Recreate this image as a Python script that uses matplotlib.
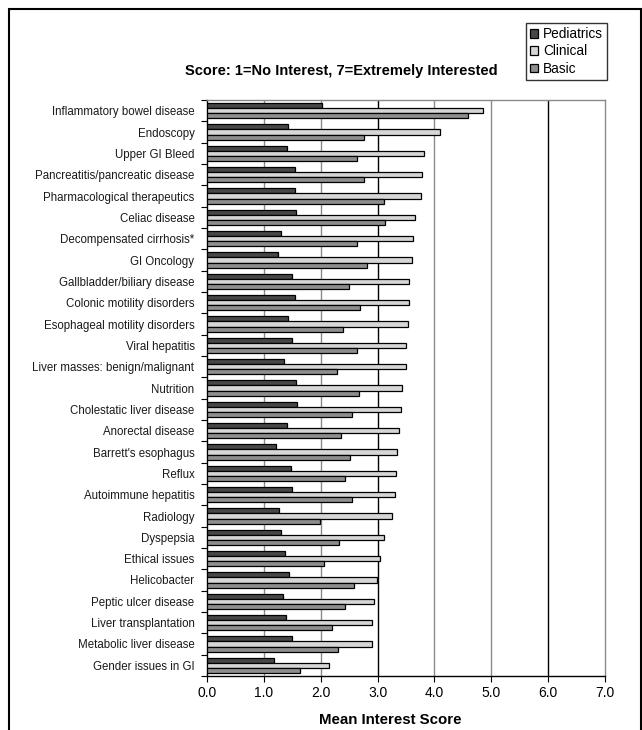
import numpy as np
import matplotlib
matplotlib.use('Agg')
import matplotlib.pyplot as plt
from matplotlib.patches import Rectangle

plt.rcParams['font.family'] = ['Liberation Sans', 'DejaVu Sans']

# -------------------------------------------------------------------------
# DATA (top row first)
# -------------------------------------------------------------------------

topics = ["Inflammatory bowel disease", "Endoscopy", "Upper GI Bleed",
          "Pancreatitis/pancreatic disease", "Pharmacological therapeutics",
          "Celiac disease", "Decompensated cirrhosis*", "GI Oncology",
          "Gallbladder/biliary disease", "Colonic motility disorders",
          "Esophageal motility disorders", "Viral hepatitis",
          "Liver masses: benign/malignant", "Nutrition",
          "Cholestatic liver disease", "Anorectal disease",
          "Barrett's esophagus", "Reflux", "Autoimmune hepatitis", "Radiology",
          "Dyspepsia", "Ethical issues", "Helicobacter", "Peptic ulcer disease",
          "Liver transplantation", "Metabolic liver disease",
          "Gender issues in GI"]

pediatrics = [2.02, 1.43, 1.40, 1.54, 1.54, 1.57, 1.31, 1.25, 1.50, 1.54,
              1.43, 1.50, 1.36, 1.57, 1.59, 1.40, 1.21, 1.47, 1.50, 1.27,
              1.31, 1.37, 1.45, 1.34, 1.39, 1.49, 1.18]
clinical = [4.85, 4.09, 3.82, 3.78, 3.76, 3.66, 3.62, 3.60, 3.56, 3.56,
            3.54, 3.50, 3.50, 3.43, 3.42, 3.37, 3.34, 3.32, 3.30, 3.25,
            3.11, 3.05, 2.99, 2.94, 2.91, 2.91, 2.15]
basic = [4.59, 2.77, 2.63, 2.77, 3.11, 3.13, 2.63, 2.81, 2.49, 2.69,
         2.40, 2.63, 2.29, 2.67, 2.55, 2.36, 2.51, 2.43, 2.55, 1.98,
         2.33, 2.06, 2.58, 2.43, 2.19, 2.31, 1.64]

series_names = ['Pediatrics', 'Clinical', 'Basic']
x_ticks = [0, 1, 2, 3, 4, 5, 6, 7]

# -------------------------------------------------------------------------
# PLOT
# -------------------------------------------------------------------------

fig = plt.figure(figsize=(6.42, 7.30), dpi=100)
W, H = 642.0, 730.0
ax = fig.add_axes([207 / W, 1 - 676 / H, (605 - 207) / W, (676 - 100) / H])

n = len(topics)
y = np.arange(n)
h = 0.24
colors = ['#474747', '#d6d6d6', '#8e8e8e']

for k, (vals, name) in enumerate(zip([pediatrics, clinical, basic], series_names)):
    ax.barh(y + (k - 1) * h, vals, height=h, color=colors[k],
            edgecolor='black', linewidth=0.9, label=name, zorder=3)

# gridlines (scan shows some darker than others)
grid_cols = {1: '#8a8a8a', 2: '#8a8a8a', 3: 'black', 4: '#8a8a8a',
             5: '#8a8a8a', 6: 'black'}
for gx, gc in grid_cols.items():
    ax.axvline(gx, color=gc, linewidth=1.0, zorder=1)

ax.set_xlim(0, 7)
ax.set_ylim(n - 0.5, -0.5)

ax.set_xticks(x_ticks)
ax.set_xticklabels(['%.1f' % t for t in x_ticks], fontsize=10)
ax.tick_params(axis='x', direction='out', length=4, width=0.8, pad=3.5)

ax.set_yticks(y)
ax.set_yticklabels(topics, fontsize=8.3, color='#1a1a1a')
ax.tick_params(axis='y', which='major', length=0, pad=9)
ax.set_yticks(np.arange(n + 1) - 0.5, minor=True)
ax.tick_params(axis='y', which='minor', direction='out', length=4, width=0.8)

for side in ['left', 'bottom']:
    ax.spines[side].set_color('black')
    ax.spines[side].set_linewidth(1.0)
for side in ['top', 'right']:
    ax.spines[side].set_color('#8a8a8a')
    ax.spines[side].set_linewidth(1.0)

# title and x label sit off-centre in the original
fig.text(341 / W, 1 - 71 / H, 'Score: 1=No Interest, 7=Extremely Interested',
         ha='center', va='center', fontsize=10.5, fontweight='bold')
fig.text(390 / W, 1 - 720 / H, 'Mean Interest Score',
         ha='center', va='center', fontsize=10.8, fontweight='bold')

leg = ax.legend(loc='upper right', bbox_to_anchor=(607 / W, 1 - 23 / H),
                bbox_transform=fig.transFigure, borderaxespad=0,
                fontsize=9.8, handlelength=0.6, handleheight=0.6,
                handletextpad=0.35, labelspacing=0.25, borderpad=0.3,
                fancybox=False, framealpha=1)
leg.get_frame().set_edgecolor('#333333')
leg.get_frame().set_linewidth(1.0)

# outer frame of the figure
fig.patches.append(Rectangle((8.5 / W, -0.05), (640.5 - 8.5) / W, 1.05 - 8.5 / H,
                             transform=fig.transFigure, fill=False,
                             edgecolor='black', linewidth=1.5))

fig.savefig('out.png', dpi=100)
